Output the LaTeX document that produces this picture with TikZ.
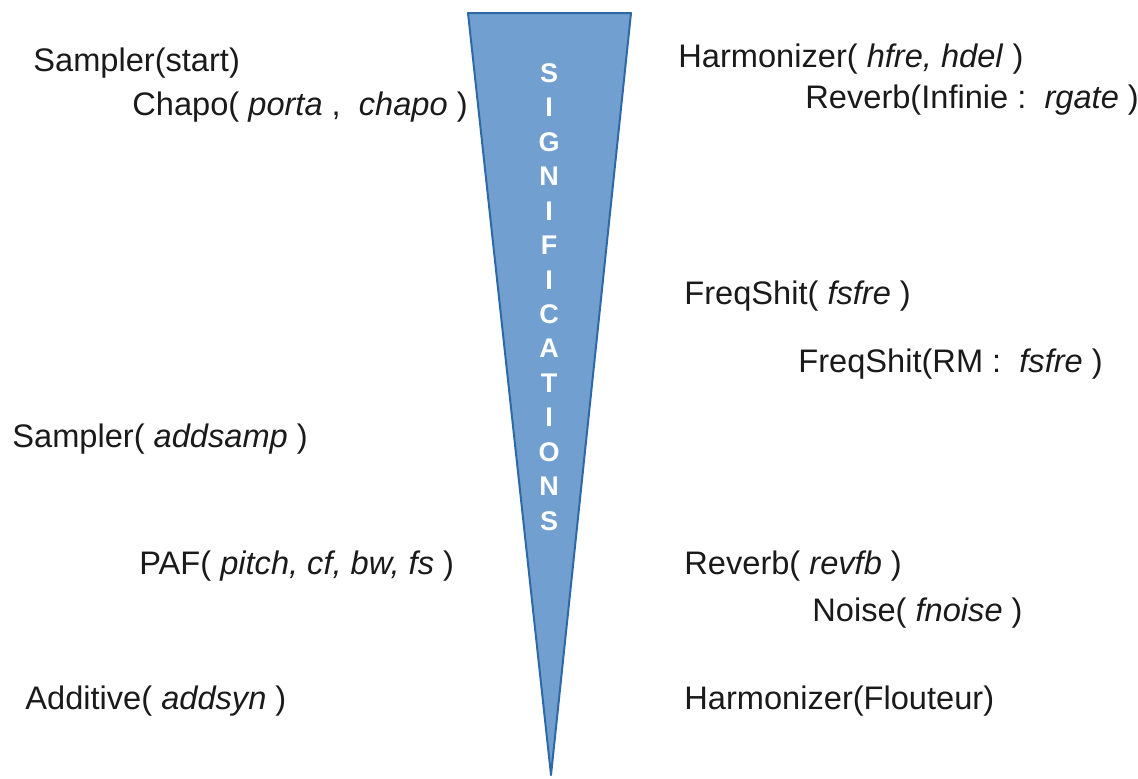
\documentclass[tikz,border=0pt]{standalone}
\usepackage{fontspec}
\setmainfont{Liberation Sans}
\usepackage{xcolor}
\usetikzlibrary{positioning}
\definecolor{ink}{HTML}{1A1A1A}
\definecolor{conefill}{HTML}{709FD0}
\definecolor{coneedge}{HTML}{2E69A6}
\tikzset{
  param/.style = {anchor=base west, inner sep=0pt, font=\fontsize{16.3}{19}\selectfont, text=ink},
  sigtxt/.style = {anchor=north, inner sep=0pt, align=center, text=white,
                   font=\fontsize{13.5}{17.23}\selectfont\bfseries},
  cone/.style  = {fill=conefill, draw=coneedge, line width=1pt, line join=round},
}
\begin{document}
\begin{tikzpicture}[x=0.5pt, y=-0.5pt]
  \useasboundingbox (0,0) rectangle (1138,778);

  % cone
  \coordinate (tl) at (468,13);
  \coordinate (tr) at (631,13);
  \coordinate (tip) at (551,775);
  \draw[cone] (tl) -- (tr) -- (tip) -- cycle;
  \node[sigtxt] (sig) at (549,63)
    {S\\I\\G\\N\\I\\F\\I\\C\\A\\T\\I\\O\\N\\S};

  % left side
  \node[param] (sstart) at (33,71)  {Sampler(start)};
  \node[param] (chapo)  at (132,115) {Chapo( \textit{porta} ,\ \ \textit{chapo} )};
  \node[param] (sadd)   at (12,447) {Sampler( \textit{addsamp} )};
  \node[param] (paf)    at (139,574) {PAF( \textit{pitch, cf, bw, fs} )};
  \node[param] (addsyn) at (25,709) {Additive( \textit{addsyn} )};

  % right side
  \node[param] (harmo)  at (678,67)  {Harmonizer( \textit{hfre, hdel} )};
  \node[param] (revinf) at (805,108) {Reverb(Infinie :\ \ \textit{rgate} )};
  \node[param] (fshift) at (684,304) {FreqShit( \textit{fsfre} )};
  \node[param] (fsrm)   at (798,372) {FreqShit(RM :\ \ \textit{fsfre} )};
  \node[param] (revfb)  at (684,574) {Reverb( \textit{revfb} )};
  \node[param] (noise)  at (812,621) {Noise( \textit{fnoise} )};
  \node[param] (flout)  at (684,709) {Harmonizer(Flouteur)};
\end{tikzpicture}
\end{document}
